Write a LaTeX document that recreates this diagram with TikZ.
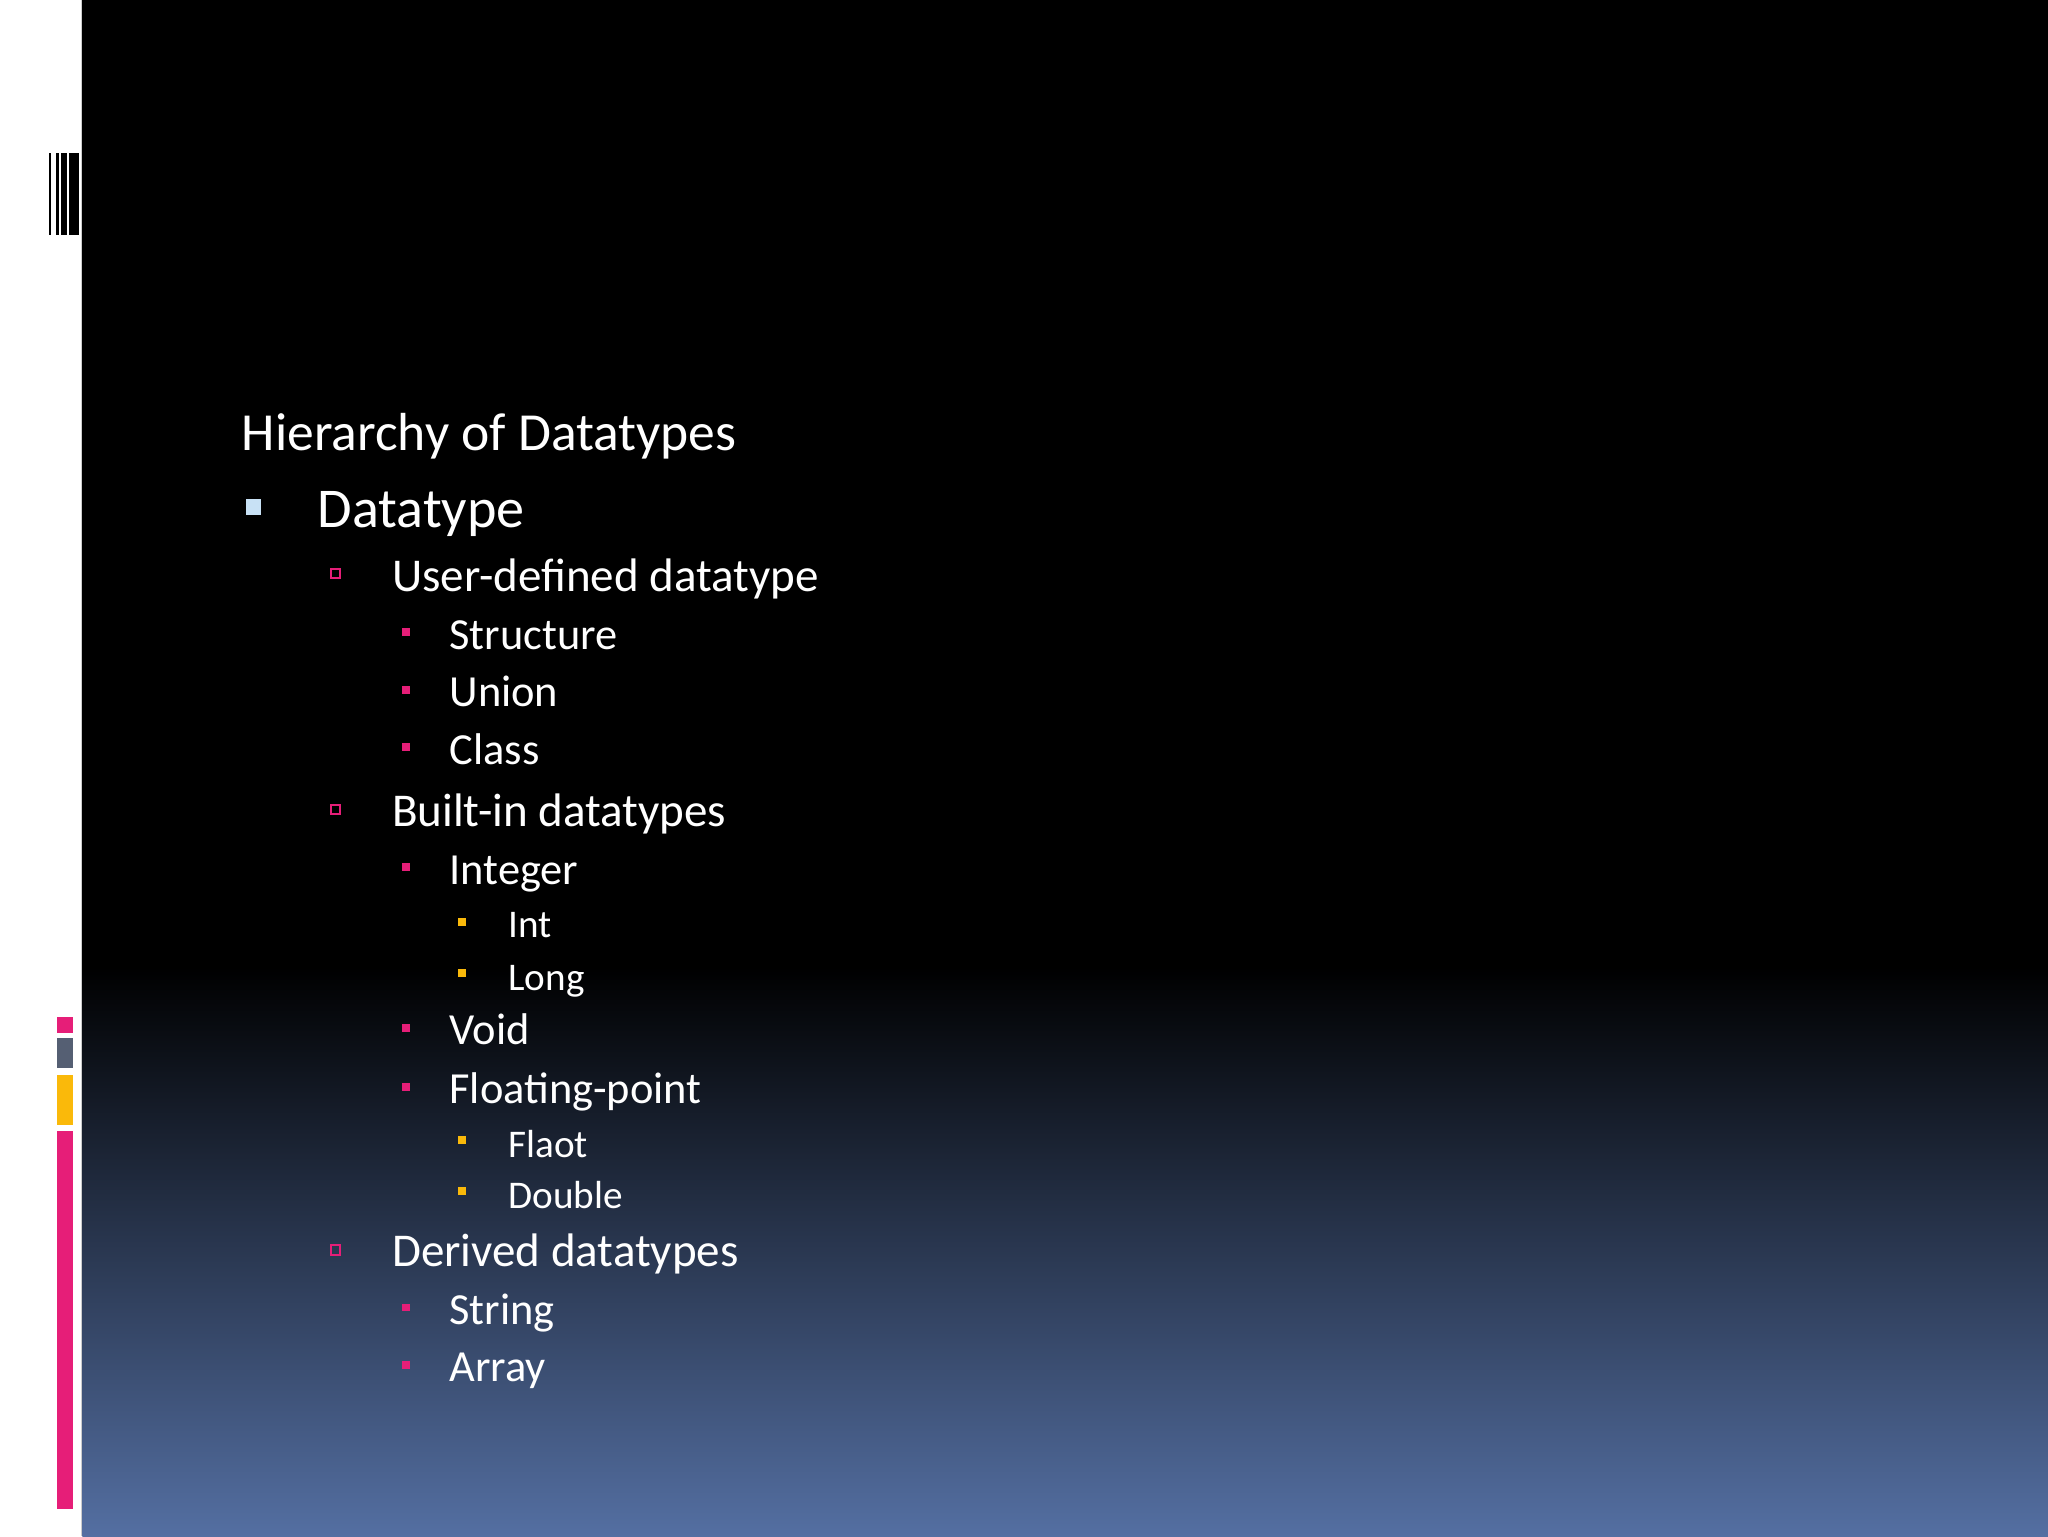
\documentclass[tikz,border=0pt]{standalone}
\usepackage{fontspec}
\setmainfont{Carlito}
\definecolor{bgblue}{RGB}{84,111,162}
\definecolor{pinkc}{RGB}{230,30,120}
\definecolor{grayc}{RGB}{85,95,115}
\definecolor{orangec}{RGB}{250,185,10}
\definecolor{lblue}{RGB}{200,225,245}
\begin{document}
\begin{tikzpicture}[x=1pt,y=-1pt,
  txt/.style={anchor=base west,text=white,inner sep=0pt},
  l0/.style={txt,font=\fontsize{41}{41}\selectfont},
  l1/.style={txt,font=\fontsize{43}{43}\selectfont},
  l2/.style={txt,font=\fontsize{36}{36}\selectfont},
  l3/.style={txt,font=\fontsize{34}{34}\selectfont},
  l4/.style={txt,font=\fontsize{30}{30}\selectfont},
  b2/.style={draw=pinkc,line width=1.5pt,minimum size=7pt,inner sep=0pt},
  b3/.style={fill=pinkc,minimum size=6pt,inner sep=0pt},
  b4/.style={fill=orangec,minimum size=6pt,inner sep=0pt}]
\useasboundingbox (0,0) rectangle (1568,1176);
\fill[white] (0,0) rectangle (1568,1176);
\fill[black] (63,0) rectangle (1568,741);
\shade[top color=black,bottom color=bgblue] (63,740) rectangle (1568,1176);
\draw[gray!40,line width=1pt] (62.5,0) -- (62.5,1176);
% barcode
\fill[black] (37.5,117) rectangle (39,180);
\fill[black] (43,117) rectangle (44.8,180);
\fill[black] (46.5,117) rectangle (51,180);
\fill[black] (53,117) rectangle (60.5,180);
% colored bars
\fill[pinkc] (44,779) rectangle (56,791);
\fill[grayc] (44,795) rectangle (56,818);
\fill[orangec] (44,823) rectangle (56,861);
\fill[pinkc] (44,866) rectangle (56,1155);
% text
\node[l0] (t) at (185,345) {Hierarchy of Datatypes};
\node[fill=lblue,minimum size=12pt,inner sep=0pt] (b1) at (194,388) {};
\node[l1] (d) at (243,404) {Datatype};
\node[b2] (ba) at (257,439) {};
\node[l2] (a) at (300,453) {User-defined datatype};
\node[b3] (s1b) at (311,484) {}; \node[l3] (s1) at (344,497) {Structure};
\node[b3] (s2b) at (311,528) {}; \node[l3] (s2) at (344,541) {Union};
\node[b3] (s3b) at (311,572) {}; \node[l3] (s3) at (344,585) {Class};
\node[b2] (bb) at (257,620) {};
\node[l2] (b) at (300,633) {Built-in datatypes};
\node[b3] (i1b) at (311,664) {}; \node[l3] (i1) at (344,677) {Integer};
\node[b4] (i2b) at (354,706) {}; \node[l4] (i2) at (389,718) {Int};
\node[b4] (i3b) at (354,745) {}; \node[l4] (i3) at (389,758) {Long};
\node[b3] (vb) at (311,787) {}; \node[l3] (v) at (344,800) {Void};
\node[b3] (fb) at (311,832) {}; \node[l3] (f) at (344,845) {Floating-point};
\node[b4] (f1b) at (354,873) {}; \node[l4] (f1) at (389,886) {Flaot};
\node[b4] (f2b) at (354,912) {}; \node[l4] (f2) at (389,925) {Double};
\node[b2] (bc) at (257,957) {};
\node[l2] (c) at (300,970) {Derived datatypes};
\node[b3] (c1b) at (311,1001) {}; \node[l3] (c1) at (344,1014) {String};
\node[b3] (c2b) at (311,1045) {}; \node[l3] (c2) at (344,1058) {Array};
\end{tikzpicture}
\end{document}
